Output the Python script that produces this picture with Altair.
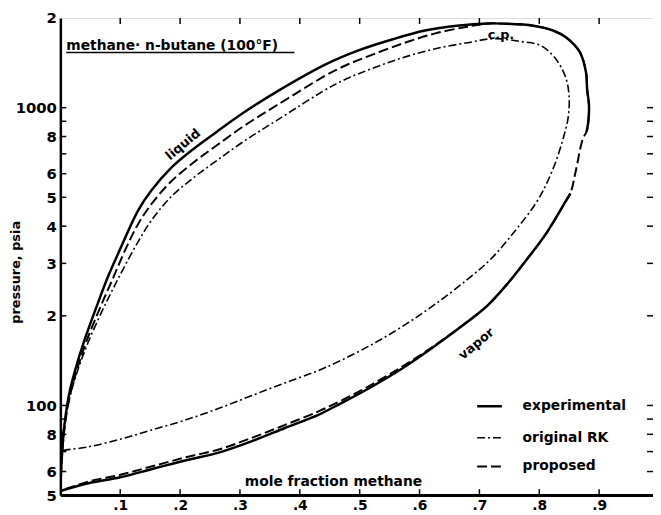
import altair as alt
import pandas as pd

# ---------------- data ----------------
# mole fraction methane (x) and pressure (psia)
exp_liq_x = [0.0, 0.003, 0.008, 0.015, 0.025, 0.040, 0.061, 0.080, 0.097, 0.130, 0.152, 0.185, 0.224, 0.262, 0.307, 0.361, 0.444, 0.498, 0.554, 0.609, 0.663, 0.715]
exp_liq_p = [51.6, 70, 90, 110, 132, 165, 216, 272, 325, 452, 527, 628, 731, 832, 965, 1130, 1400, 1557, 1694, 1815, 1885, 1918]
exp_vap_low_x = [0.0, 0.045, 0.100, 0.155, 0.210, 0.266, 0.321, 0.375, 0.431, 0.470, 0.515, 0.571, 0.625, 0.680, 0.713, 0.746, 0.779, 0.812, 0.845, 0.852]
exp_vap_low_p = [51.6, 54.7, 57.4, 61.3, 65.5, 69.6, 76, 84, 93, 102, 114, 133, 158, 191, 216, 255, 309, 379, 488, 515]
exp_vap_high_x = [0.879, 0.882, 0.883, 0.880, 0.878, 0.868, 0.845, 0.823, 0.790, 0.740]
exp_vap_high_p = [830, 899, 1023, 1150, 1317, 1534, 1720, 1816, 1885, 1915]

rk_liq_x = [0.0, 0.004, 0.010, 0.018, 0.030, 0.046, 0.066, 0.086, 0.106, 0.130, 0.152, 0.185, 0.224, 0.262, 0.307, 0.361, 0.460, 0.515, 0.571, 0.625, 0.680, 0.724]
rk_liq_p = [70, 80, 94, 111, 133, 162, 200, 242, 290, 355, 418, 502, 585, 666, 772, 905, 1200, 1340, 1470, 1575, 1652, 1705]
rk_vap_x = [0.0, 0.002, 0.045, 0.100, 0.155, 0.210, 0.266, 0.320, 0.375, 0.431, 0.460, 0.515, 0.571, 0.625, 0.680, 0.719, 0.757, 0.795, 0.812, 0.828, 0.840, 0.848, 0.850, 0.845, 0.828, 0.802, 0.769]
rk_vap_p = [70, 70.4, 72.5, 77, 83, 89.5, 98, 108, 119, 131, 139, 158, 184, 218, 265, 310, 380, 480, 555, 662, 789, 919, 1071, 1248, 1454, 1618, 1668]

prop_liq_x = [0.0, 0.003, 0.009, 0.017, 0.028, 0.044, 0.066, 0.086, 0.109, 0.130, 0.152, 0.185, 0.224, 0.262, 0.307, 0.361, 0.460, 0.515, 0.571, 0.625, 0.680, 0.715]
prop_liq_p = [51.6, 69, 90, 110, 132, 165, 212, 262, 335, 407, 474, 565, 658, 749, 869, 1017, 1337, 1490, 1640, 1773, 1870, 1918]
prop_vap_x = [0.0, 0.045, 0.100, 0.155, 0.210, 0.266, 0.321, 0.375, 0.431, 0.470, 0.515, 0.571, 0.625, 0.680, 0.713, 0.746, 0.779, 0.812, 0.845, 0.852, 0.861, 0.873, 0.879, 0.882, 0.883, 0.880, 0.878, 0.868, 0.845, 0.823, 0.790, 0.740]
prop_vap_p = [51.6, 55.4, 58.5, 62.6, 67.0, 71.3, 78.0, 86.0, 95.5, 104, 116, 135, 159, 191, 216, 255, 309, 379, 488, 515, 613, 789, 830, 899, 1023, 1150, 1317, 1534, 1720, 1816, 1885, 1915]

x_ticks = [0.1, 0.2, 0.3, 0.4, 0.5, 0.6, 0.7, 0.8, 0.9]
y_labels = [50, 60, 80, 100, 200, 300, 400, 500, 600, 800, 1000, 2000]
y_ticks = [50, 60, 70, 80, 90, 100, 200, 300, 400, 500, 600, 700, 800, 900, 1000]

legend_names = ["experimental", "original RK", "proposed"]

# ---------------- build tables ----------------
def rows(series, seg, xs, ps):
    return [{"x": x, "P": p, "series": series, "seg": f"{series}-{seg}", "order": i}
            for i, (x, p) in enumerate(zip(xs, ps))]

data = []
data += rows("experimental", 0, exp_liq_x + exp_vap_high_x[::-1], exp_liq_p + exp_vap_high_p[::-1])
data += rows("experimental", 1, exp_vap_low_x, exp_vap_low_p)
data += rows("original RK", 0, rk_liq_x + rk_vap_x[::-1], rk_liq_p + rk_vap_p[::-1])
data += rows("proposed", 0, prop_liq_x + prop_vap_x[::-1], prop_liq_p + prop_vap_p[::-1])
df = pd.DataFrame(data)

FONT = "DejaVu Sans"
W, H = 600, 483

xscale = alt.Scale(domain=[0, 0.99], nice=False, zero=False)
yscale = alt.Scale(type="log", domain=[50, 2000], nice=False)

xaxis = alt.Axis(values=x_ticks, labelExpr="replace(format(datum.value,'.1f'),'0.','.')",
                 ticks=False, grid=False, domainWidth=3, domainColor="black",
                 labelFont=FONT, labelFontSize=14, labelFontWeight="bold", labelColor="black",
                 labelPadding=4, labelOverlap=False,
                 title="mole fraction methane", titleX=276, titleY=-14, titleAlign="center",
                 titleBaseline="middle", titleFont=FONT, titleFontSize=14, titleFontWeight="bold",
                 titleColor="black")
yaxis = alt.Axis(values=y_labels,
                 labelExpr="datum.value == 100 ? '100' : datum.value == 1000 ? '1000' : substring(format(datum.value,'d'),0,1)",
                 ticks=False, grid=False, domainWidth=2.5, domainColor="black",
                 labelFont=FONT, labelFontSize=15, labelFontWeight="bold", labelColor="black",
                 labelPadding=4, labelOverlap=False, labelFlush=False,
                 title="pressure, psia", titleX=-45, titleY=257, titleAngle=270, titleAlign="center",
                 titleBaseline="middle", titleFont=FONT, titleFontSize=13, titleFontWeight="bold",
                 titleColor="black")

X = alt.X("x:Q", scale=xscale, axis=xaxis)
Y = alt.Y("P:Q", scale=yscale, axis=yaxis)

base = alt.Chart(df).encode(x=X, y=Y, detail="seg:N", order="order:Q")
rk_line = base.transform_filter(alt.datum.series == "original RK").mark_line(
    color="black", strokeWidth=1.6, strokeDash=[8, 3, 2, 3], interpolate="catmull-rom", clip=True)
prop_line = base.transform_filter(alt.datum.series == "proposed").mark_line(
    color="black", strokeWidth=2, strokeDash=[10, 4], interpolate="catmull-rom", clip=True)
exp_line = base.transform_filter(alt.datum.series == "experimental").mark_line(
    color="black", strokeWidth=2.5, interpolate="catmull-rom", clip=True)

xt = pd.DataFrame({"x": x_ticks})
yt = pd.DataFrame({"P": y_ticks})
top_ticks = alt.Chart(xt).mark_rule(color="black", strokeWidth=1.5).encode(x=X, y=alt.value(0), y2=alt.value(6))
bot_ticks = alt.Chart(xt).mark_rule(color="black", strokeWidth=1.5).encode(x=X, y=alt.value(H), y2=alt.value(H - 6))
left_ticks = alt.Chart(yt).mark_rule(color="black", strokeWidth=1.5).encode(y=Y, x=alt.value(0), x2=alt.value(6))
right_ticks = alt.Chart(yt).mark_rule(color="black", strokeWidth=1.5).encode(y=Y, x=alt.value(W - 6), x2=alt.value(W))

one = alt.Data(values=[{"a": 1}])

def ann(text, x, p, angle=0, size=13):
    d = pd.DataFrame({"x": [x], "P": [p], "t": [text]})
    return alt.Chart(d).mark_text(font=FONT, fontSize=size, fontWeight="bold", color="black",
                                  angle=angle, align="center", baseline="middle").encode(x=X, y=Y, text="t:N")

liquid_lbl = ann("liquid", 0.205, 752, angle=320)
vapor_lbl = ann("vapor", 0.695, 161, angle=320)
cp_lbl = ann("c.p.", 0.736, 1747, size=13)

title_txt = alt.Chart(one).mark_text(font=FONT, fontSize=14, fontWeight="bold", color="black",
                                     align="left", baseline="middle").encode(
    x=alt.value(6), y=alt.value(28), text=alt.value("methane· n-butane (100°F)"))
title_rule = alt.Chart(one).mark_rule(color="black", strokeWidth=1.5).encode(
    x=alt.value(6), x2=alt.value(237), y=alt.value(35))

leg_y = [393, 425, 454]
leg_layers = []
dashes = [[1, 0], [8, 3, 2, 3], [10, 4]]
widths = [2.5, 1.6, 2]
for name, yy, dsh, wd in zip(legend_names, leg_y, dashes, widths):
    leg_layers.append(alt.Chart(one).mark_rule(color="black", strokeWidth=wd, strokeDash=dsh).encode(
        x=alt.value(422), x2=alt.value(447), y=alt.value(yy)))
    leg_layers.append(alt.Chart(one).mark_text(font=FONT, fontSize=14, fontWeight="bold", color="black",
                                               align="left", baseline="middle").encode(
        x=alt.value(468), y=alt.value(yy), text=alt.value(name)))

chart = alt.layer(
    rk_line, prop_line, exp_line,
    top_ticks, bot_ticks, left_ticks, right_ticks,
    liquid_lbl, vapor_lbl, cp_lbl, title_txt, title_rule, *leg_layers
).properties(
    width=W, height=H,
    autosize=alt.AutoSizeParams(type="none"),
    padding={"left": 53, "top": 7, "right": 0, "bottom": 17},
).configure_view(stroke="black", strokeWidth=2).configure(background="white")

chart.save("out.html", embed_options={"renderer": "svg", "actions": False})
